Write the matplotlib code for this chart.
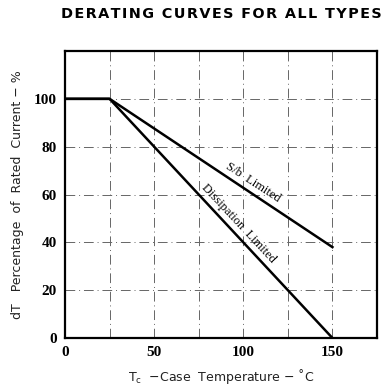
import numpy as np
import matplotlib
matplotlib.use("Agg")
import matplotlib.pyplot as plt

# derating curves (case temperature in C, percent of rated current)
temp_sb = [0, 25, 150]
pct_sb = [100, 100, 38]
temp_diss = [0, 25, 150]
pct_diss = [100, 100, 0]

xticks = [0, 50, 100, 150]
yticks = [0, 20, 40, 60, 80, 100]
grid_x = [25, 50, 75, 100, 125, 150]
grid_y = [20, 40, 60, 80, 100]

fig = plt.figure(figsize=(3.86, 3.87), dpi=100)
ax = fig.add_axes([65/386, 1 - 338/387, 312/386, 287/387])

for gx in grid_x:
    ax.axvline(gx, color='#666666', lw=0.7, ls=(0, (10, 4, 1, 4)), zorder=1)
for gy in grid_y:
    ax.axhline(gy, color='#666666', lw=0.7, ls=(0, (10, 4, 1, 4)), zorder=1)

ax.plot(temp_sb, pct_sb, color='black', lw=1.8, zorder=3)
ax.plot(temp_diss, pct_diss, color='black', lw=1.8, zorder=3)

ax.set_xlim(0, 175)
ax.set_ylim(0, 120)
ax.set_xticks(xticks)
ax.set_yticks(yticks)
ax.tick_params(length=0, pad=6)
for lab in ax.get_xticklabels() + ax.get_yticklabels():
    lab.set_fontfamily('Liberation Serif')
    lab.set_fontweight('bold')
    lab.set_fontsize(11)
for s in ax.spines.values():
    s.set_linewidth(1.6)

# curve labels along the lines
ax.text(105.5, 65.0, 'S/b  Limited', rotation=-33, fontsize=9, family='Liberation Serif',
        ha='center', va='center', rotation_mode='anchor')
ax.text(97.5, 48.0, 'Dissipation  Limited', rotation=-47, fontsize=9, family='Liberation Serif',
        ha='center', va='center', rotation_mode='anchor')

title = '\u200a'.join('DERATING CURVES FOR ALL TYPES')
fig.text(221/386, 1 - 14/387, title, ha='center', va='center',
         fontsize=10.4, fontweight='bold', family='DejaVu Sans')
ax.set_xlabel('T$_\\mathrm{c}$  \u2212Case  Temperature \u2212 \u02daC', fontsize=9,
              family='DejaVu Sans', color='#222222')
ax.set_ylabel('dT   Percentage  of  Rated  Current \u2212 %', fontsize=9,
              family='DejaVu Sans', color='#222222')
ax.xaxis.set_label_coords(0.5, -0.1)
ax.yaxis.set_label_coords(-0.13, 0.5)

fig.savefig('out.png', dpi=100)
